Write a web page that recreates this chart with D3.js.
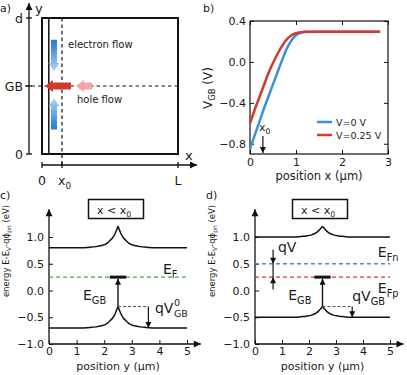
<!DOCTYPE html>
<html>
<head>
<meta charset="utf-8">
<script src="https://cdn.jsdelivr.net/npm/d3@7"></script>
<style>
  body { margin: 0; background: #fff; }
  text { font-family: "DejaVu Sans", sans-serif; fill: #1a1a1a; }
</style>
</head>
<body>
<svg id="fig" width="407" height="375"></svg>
<script>
// ---- panel b : V_GB along x ----
let posX = [0, 0.1, 0.2, 0.3, 0.4, 0.5, 0.6, 0.7, 0.8, 0.9, 1.0, 1.1, 1.2, 1.5, 2.0, 2.5, 2.83];
let vgbV0 = [-0.85, -0.72, -0.59, -0.46, -0.34, -0.22, -0.10, 0.02, 0.13, 0.21, 0.26, 0.285, 0.293, 0.295, 0.295, 0.295, 0.295];
let vgbV25 = [-0.60, -0.47, -0.35, -0.23, -0.11, -0.01, 0.08, 0.16, 0.22, 0.26, 0.28, 0.29, 0.294, 0.295, 0.295, 0.295, 0.295];
let legendNames = ['V=0 V', 'V=0.25 V'];
let x0Pos = 0.28;

// ---- panels c, d : band diagrams along y ----
let posY = [0, 1.0, 1.5, 1.7, 1.9, 2.1, 2.2, 2.3, 2.4, 2.5, 2.6, 2.7, 2.8, 2.9, 3.1, 3.3, 3.5, 4.0, 5.0];
let cbC = [0.80, 0.80, 0.81, 0.82, 0.84, 0.88, 0.93, 0.98, 1.07, 1.20, 1.07, 0.98, 0.93, 0.88, 0.84, 0.82, 0.81, 0.80, 0.80];
let vbC = [-0.70, -0.70, -0.69, -0.68, -0.66, -0.62, -0.57, -0.52, -0.43, -0.30, -0.43, -0.52, -0.57, -0.62, -0.66, -0.68, -0.69, -0.70, -0.70];
let cbD = [1.00, 1.00, 1.00, 1.01, 1.02, 1.04, 1.06, 1.09, 1.14, 1.20, 1.14, 1.09, 1.06, 1.04, 1.02, 1.01, 1.00, 1.00, 1.00];
let vbD = [-0.50, -0.50, -0.50, -0.49, -0.48, -0.46, -0.44, -0.41, -0.36, -0.30, -0.36, -0.41, -0.44, -0.46, -0.48, -0.49, -0.50, -0.50, -0.50];
let eF = 0.25, eFn = 0.5, eFp = 0.25, eGB = 0.25;
let gbPos = 2.5, gbBar = [2.2, 2.8], qvgbPos = 3.6, qvPos = 0.67;
let energyTicks = [-1, -0.5, 0, 0.5, 1];
let posYTicks = [0, 1, 2, 3, 4, 5];

let blue = '#3a92dc', red = '#d3392c', green = '#3fae3f';

let svg = d3.select('#fig');
let defs = svg.append('defs');

let marker = (id, w, h) => {
  defs.append('marker').attr('id', id)
    .attr('viewBox', '0 0 10 10').attr('refX', 10).attr('refY', 5)
    .attr('markerWidth', w).attr('markerHeight', h)
    .attr('markerUnits', 'userSpaceOnUse').attr('orient', 'auto')
    .append('path').attr('d', 'M0,0L10,5L0,10z').attr('fill', '#111');
};
marker('axhead', 9, 7);
marker('head', 7, 6);

// text with sub/superscript pieces: parts = [[string, 'n'|'sub'|'sup'], ...]
let rich = (g, x, y, parts, size, anchor) => {
  let t = g.append('text').attr('x', x).attr('y', y)
    .attr('font-size', size).attr('text-anchor', anchor || 'start');
  let shift = 0;
  parts.forEach(([s, k]) => {
    let target = k === 'sub' ? size * 0.28 : k === 'sup' ? -size * 0.42 : 0;
    t.append('tspan').attr('dy', target - shift)
      .attr('font-size', k === 'n' ? size : size * 0.7).text(s);
    shift = target;
  });
  return t;
};

// ================= panel a =================
let ga = svg.append('g');
let ax = d3.scaleLinear().domain([0, 1]).range([42, 178]);
let ay = d3.scaleLinear().domain([0, 1]).range([154, 18]);
let aTicksY = [[0, '0'], [0.5, 'GB'], [1, 'd']];
let aInner = 0.05, aX0 = 0.147;
let electronArrows = [[0.088, 0.84, 0.61], [0.088, 0.18, 0.41]];   // x, tail y, tip y
let holeArrows = [[0.213, 0.022, red], [0.368, 0.25, '#f2a6a2']];   // tail x, tip x, colour

ga.append('text').attr('x', 0).attr('y', 12).attr('font-size', 11).text('a)');
// y axis
ga.append('line').attr('x1', 29).attr('x2', 29).attr('y1', ay(0)).attr('y2', 3)
  .attr('stroke', '#111').attr('stroke-width', 1.3).attr('marker-end', 'url(#axhead)');
ga.append('text').attr('x', 35).attr('y', 13).attr('font-size', 13).text('y');
aTicksY.forEach(([v, s]) => {
  ga.append('line').attr('x1', 26).attr('x2', 32).attr('y1', ay(v)).attr('y2', ay(v))
    .attr('stroke', '#111').attr('stroke-width', 1.3);
  ga.append('text').attr('x', 23).attr('y', ay(v) + 4.5).attr('text-anchor', 'end')
    .attr('font-size', 12.5).text(s);
});
// x axis
let axisY = 165;
ga.append('line').attr('x1', ax(0)).attr('x2', 197).attr('y1', axisY).attr('y2', axisY)
  .attr('stroke', '#111').attr('stroke-width', 1.3).attr('marker-end', 'url(#axhead)');
ga.append('text').attr('x', 185).attr('y', 160).attr('font-size', 13).text('x');
[0, aX0, 1].forEach(v => {
  ga.append('line').attr('x1', ax(v)).attr('x2', ax(v)).attr('y1', axisY - 3).attr('y2', axisY + 3)
    .attr('stroke', '#111').attr('stroke-width', 1.3);
});
ga.append('text').attr('x', ax(0)).attr('y', 185).attr('text-anchor', 'middle').attr('font-size', 12.5).text('0');
rich(ga, ax(aX0) - 4, 185, [['x', 'n'], ['0', 'sub']], 12.5);
ga.append('text').attr('x', ax(1)).attr('y', 185).attr('text-anchor', 'middle').attr('font-size', 12.5).text('L');
// dashed guides
ga.append('line').attr('x1', 25).attr('x2', ax(1)).attr('y1', ay(0.5)).attr('y2', ay(0.5))
  .attr('stroke', '#111').attr('stroke-width', 1.2).attr('stroke-dasharray', '3.5,3');
ga.append('line').attr('x1', ax(aX0)).attr('x2', ax(aX0)).attr('y1', ay(1)).attr('y2', axisY)
  .attr('stroke', '#111').attr('stroke-width', 1.2).attr('stroke-dasharray', '3.5,3');
// device box
ga.append('rect').attr('x', ax(0)).attr('y', ay(1)).attr('width', ax(1) - ax(0)).attr('height', ay(0) - ay(1))
  .attr('fill', 'none').attr('stroke', '#111').attr('stroke-width', 2);
ga.append('line').attr('x1', ax(aInner)).attr('x2', ax(aInner)).attr('y1', ay(1)).attr('y2', ay(0))
  .attr('stroke', '#111').attr('stroke-width', 1.5);

// fat arrows
let fatArrow = (x1, y1, x2, y2, shaft, head, headLen) => {
  let dx = x2 - x1, dy = y2 - y1, len = Math.hypot(dx, dy);
  let ux = dx / len, uy = dy / len, px = -uy, py = ux;
  let bx = x2 - ux * headLen, by = y2 - uy * headLen;
  let pts = [
    [x1 + px * shaft / 2, y1 + py * shaft / 2], [bx + px * shaft / 2, by + py * shaft / 2],
    [bx + px * head / 2, by + py * head / 2], [x2, y2],
    [bx - px * head / 2, by - py * head / 2], [bx - px * shaft / 2, by - py * shaft / 2],
    [x1 - px * shaft / 2, y1 - py * shaft / 2]
  ];
  return 'M' + pts.map(p => p.join(',')).join('L') + 'Z';
};
electronArrows.forEach(([xv, t, tip], i) => {
  let gid = 'eg' + i;
  let grad = defs.append('linearGradient').attr('id', gid)
    .attr('x1', 0).attr('x2', 0).attr('y1', tip < t ? 1 : 0).attr('y2', tip < t ? 0 : 1);
  grad.append('stop').attr('offset', '0%').attr('stop-color', '#b3d5f3');
  grad.append('stop').attr('offset', '75%').attr('stop-color', '#3d8fdc');
  grad.append('stop').attr('offset', '100%').attr('stop-color', '#2a7bcd');
  ga.append('path').attr('d', fatArrow(ax(xv), ay(t), ax(xv), ay(tip), 6, 11, 8))
    .attr('fill', 'url(#' + gid + ')');
});
holeArrows.forEach(([t, tip, c]) => {
  ga.append('path').attr('d', fatArrow(ax(t), ay(0.5), ax(tip), ay(0.5), 7, 12, 8)).attr('fill', c);
});
ga.append('text').attr('x', 68).attr('y', 48).attr('font-size', 10).text('electron flow');
ga.append('text').attr('x', 77).attr('y', 103).attr('font-size', 10).text('hole flow');

// ================= panel b =================
let gb = svg.append('g');
let bx = d3.scaleLinear().domain([0, 3]).range([250, 388]);
let by = d3.scaleLinear().domain([-0.9, 0.4]).range([154, 21]);
gb.append('text').attr('x', 203).attr('y', 12).attr('font-size', 11).text('b)');

let tick4 = sel => sel.call(g => g.select('.domain').remove())
  .call(g => g.selectAll('text').attr('font-size', 11).attr('font-family', '"DejaVu Sans", sans-serif').attr('fill', '#1a1a1a'))
  .call(g => g.selectAll('line').attr('stroke', '#111'));
gb.append('g').attr('transform', 'translate(0,154)')
  .call(d3.axisBottom(bx).tickValues([0, 1, 2, 3]).tickFormat(d3.format('d')).tickSizeInner(-4).tickSizeOuter(0).tickPadding(4))
  .call(tick4);
gb.append('g').attr('transform', 'translate(0,21)')
  .call(d3.axisTop(bx).tickValues([0, 1, 2, 3]).tickFormat('').tickSizeInner(-4).tickSizeOuter(0))
  .call(tick4);
gb.append('g').attr('transform', 'translate(250,0)')
  .call(d3.axisLeft(by).tickValues([-0.8, -0.4, 0, 0.4]).tickFormat(d3.format('.1f')).tickSizeInner(-4).tickSizeOuter(0).tickPadding(4))
  .call(tick4);
gb.append('g').attr('transform', 'translate(388,0)')
  .call(d3.axisRight(by).tickValues([-0.8, -0.4, 0, 0.4]).tickFormat('').tickSizeInner(-4).tickSizeOuter(0))
  .call(tick4);
gb.append('rect').attr('x', 250).attr('y', 21).attr('width', 138).attr('height', 133)
  .attr('fill', 'none').attr('stroke', '#111').attr('stroke-width', 1.2);

let lineB = d3.line().x((d, i) => bx(posX[i])).y(d => by(d)).curve(d3.curveMonotoneX);
[[vgbV0, blue], [vgbV25, red]].forEach(([s, c]) => {
  gb.append('path').attr('d', lineB(s)).attr('fill', 'none').attr('stroke', c).attr('stroke-width', 2.5);
});
legendNames.forEach((n, i) => {
  let yy = 122 + i * 13;
  gb.append('line').attr('x1', 317).attr('x2', 332).attr('y1', yy).attr('y2', yy)
    .attr('stroke', i ? red : blue).attr('stroke-width', 2.5);
  gb.append('text').attr('x', 336).attr('y', yy + 3.5).attr('font-size', 9.5).text(n);
});
rich(gb, bx(x0Pos) - 4, 131, [['x', 'n'], ['0', 'sub']], 11);
gb.append('line').attr('x1', bx(x0Pos)).attr('x2', bx(x0Pos)).attr('y1', 136).attr('y2', by(-0.89))
  .attr('stroke', '#111').attr('stroke-width', 1.2).attr('marker-end', 'url(#head)');
rich(gb, 0, 0, [['V', 'n'], ['GB', 'sub'], [' (V)', 'n']], 12, 'middle')
  .attr('transform', 'translate(212,88) rotate(-90)');
gb.append('text').attr('x', 319).attr('y', 180).attr('text-anchor', 'middle').attr('font-size', 11.5)
  .text('position x (\u00b5m)');

// ================= panels c, d =================
let bandPanel = (opt) => {
  let g = svg.append('g');
  let x = d3.scaleLinear().domain([0, 5]).range([opt.left, opt.right]);
  let y = d3.scaleLinear().domain([-1, 1]).range([344, 237]);
  g.append('text').attr('x', opt.left - 49).attr('y', 199).attr('font-size', 11).text(opt.tag);

  // axes with arrows
  g.append('line').attr('x1', x(0)).attr('x2', x(0)).attr('y1', y(-1)).attr('y2', y(1.52))
    .attr('stroke', '#111').attr('stroke-width', 1.3).attr('marker-end', 'url(#axhead)');
  g.append('line').attr('x1', x(0)).attr('x2', x(5.5)).attr('y1', y(-1)).attr('y2', y(-1))
    .attr('stroke', '#111').attr('stroke-width', 1.3).attr('marker-end', 'url(#axhead)');
  g.append('g').attr('transform', `translate(0,${y(-1)})`)
    .call(d3.axisBottom(x).tickValues(posYTicks).tickFormat(d3.format('d')).tickSizeInner(-4).tickSizeOuter(0).tickPadding(3))
    .call(tick4);
  g.append('g').attr('transform', `translate(${x(0)},0)`)
    .call(d3.axisLeft(y).tickValues(energyTicks).tickFormat(d3.format('.1f')).tickSizeInner(-4).tickSizeOuter(0).tickPadding(5))
    .call(tick4);

  // bands, split at the GB so the cusp stays sharp
  let line = d3.line().x(d => x(d[0])).y(d => y(d[1])).curve(d3.curveMonotoneX);
  [opt.cb, opt.vb].forEach(s => {
    let pts = posY.map((p, i) => [p, s[i]]);
    let k = posY.indexOf(gbPos);
    [pts.slice(0, k + 1), pts.slice(k)].forEach(part => {
      g.append('path').attr('d', line(part)).attr('fill', 'none').attr('stroke', '#111').attr('stroke-width', 1.5);
    });
  });

  // quasi-Fermi levels
  opt.levels.forEach(([v, c]) => {
    g.append('line').attr('x1', x(0)).attr('x2', x(5)).attr('y1', y(v)).attr('y2', y(v))
      .attr('stroke', c).attr('stroke-width', 1.4).attr('stroke-dasharray', '4,3');
  });

  // GB level and its arrow
  let vbPeak = d3.max(opt.vb);
  g.append('line').attr('x1', x(gbPos)).attr('x2', x(gbPos)).attr('y1', y(vbPeak)).attr('y2', y(eGB) + 1.5)
    .attr('stroke', '#111').attr('stroke-width', 1.4).attr('marker-end', 'url(#head)');
  g.append('line').attr('x1', x(gbBar[0])).attr('x2', x(gbBar[1])).attr('y1', y(eGB)).attr('y2', y(eGB))
    .attr('stroke', '#111').attr('stroke-width', 3);
  rich(g, x(1.23), y(-0.17), [['E', 'n'], ['GB', 'sub']], 14);

  // qV_GB
  let vbBase = opt.vb[0];
  g.append('line').attr('x1', x(gbPos)).attr('x2', x(qvgbPos)).attr('y1', y(vbPeak)).attr('y2', y(vbPeak))
    .attr('stroke', '#555').attr('stroke-width', 1).attr('stroke-dasharray', '3,2');
  g.append('line').attr('x1', x(qvgbPos)).attr('x2', x(qvgbPos)).attr('y1', y(vbPeak)).attr('y2', y(vbBase))
    .attr('stroke', '#111').attr('stroke-width', 1.2).attr('marker-end', 'url(#head)');

  // "x < x0" box
  let bw = 55, bh = 19, bxc = opt.boxC;
  g.append('rect').attr('x', bxc - bw / 2).attr('y', 199.5).attr('width', bw).attr('height', bh)
    .attr('fill', 'none').attr('stroke', '#111').attr('stroke-width', 1.5);
  rich(g, bxc - 2, 213.5, [['x < x', 'n'], ['0', 'sub']], 11, 'middle');

  // axis titles
  rich(g, 0, 0, [['energy E-E', 'n'], ['V', 'sub'], ['-q\u03d5', 'n'], ['pn', 'sub'], [' (eV)', 'n']], 8.5, 'middle')
    .attr('transform', `translate(${opt.left - 40},251) rotate(-90)`);
  g.append('text').attr('x', x(2.5)).attr('y', 370).attr('text-anchor', 'middle').attr('font-size', 11)
    .text('position y (\u00b5m)');
  return { g, x, y, vbPeak, vbBase };
};

// panel c
let c = bandPanel({ tag: 'c)', left: 49, right: 187, cb: cbC, vb: vbC, levels: [[eF, green]], boxC: 116 });
rich(c.g, c.x(4.13), c.y(0.3), [['E', 'n'], ['F', 'sub']], 14);
{
  let t = c.g.append('text').attr('x', c.x(3.84)).attr('y', c.y(-0.42)).attr('font-size', 14).text('qV');
  let w = t.node().getComputedTextLength();
  c.g.append('text').attr('x', c.x(3.84) + w + 0.5).attr('y', c.y(-0.42) - 6.5).attr('font-size', 9.5).text('0');
  c.g.append('text').attr('x', c.x(3.84) + w + 0.5).attr('y', c.y(-0.42) + 4).attr('font-size', 9.5).text('GB');
}

// panel d
let d = bandPanel({ tag: 'd)', left: 255, right: 390, cb: cbD, vb: vbD, levels: [[eFn, blue], [eFp, red]], boxC: 320 });
rich(d.g, d.x(4.55), d.y(0.62), [['E', 'n'], ['F', 'sub'], ['n', 'sub']], 14);
rich(d.g, d.x(4.55), d.y(-0.05), [['E', 'n'], ['F', 'sub'], ['p', 'sub']], 14);
rich(d.g, d.x(3.6), d.y(-0.19), [['qV', 'n'], ['GB', 'sub']], 14);
d.g.append('text').attr('x', d.x(0.85)).attr('y', d.y(0.72)).attr('font-size', 14).text('qV');
// qV double arrow between the two quasi-Fermi levels
d.g.append('line').attr('x1', d.x(qvPos)).attr('x2', d.x(qvPos)).attr('y1', d.y(0.76)).attr('y2', d.y(eFn))
  .attr('stroke', '#111').attr('stroke-width', 1.2).attr('marker-end', 'url(#head)');
d.g.append('line').attr('x1', d.x(qvPos)).attr('x2', d.x(qvPos)).attr('y1', d.y(0.02)).attr('y2', d.y(eFp))
  .attr('stroke', '#111').attr('stroke-width', 1.2).attr('marker-end', 'url(#head)');
d.g.append('line').attr('x1', d.x(qvPos)).attr('x2', d.x(qvPos)).attr('y1', d.y(eFn)).attr('y2', d.y(eFp))
  .attr('stroke', '#111').attr('stroke-width', 1.2);
</script>
</body>
</html>
